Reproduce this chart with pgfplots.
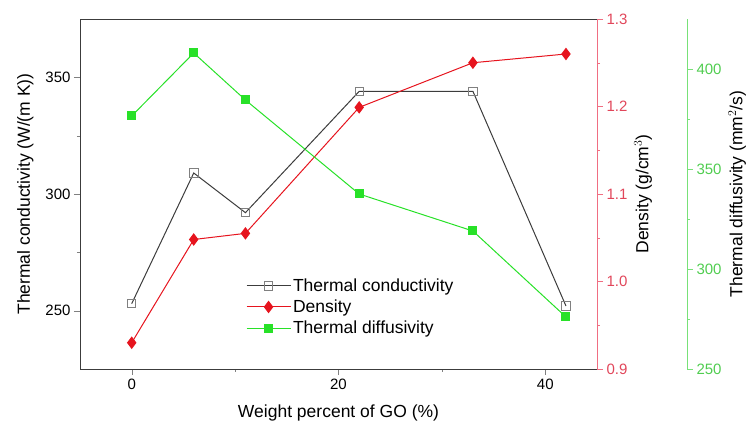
\documentclass[border=0pt]{standalone}
\usepackage{fontspec}
\setmainfont{Liberation Sans}
\usepackage{pgfplots}
\pgfplotsset{compat=1.18}
\definecolor{cred}{RGB}{230,20,30}
\definecolor{cgreen}{RGB}{40,225,40}
\definecolor{axred}{RGB}{240,110,130}
\definecolor{axgreen}{RGB}{120,225,120}
\definecolor{lblred}{RGB}{225,70,90}
\definecolor{lblgreen}{RGB}{80,205,80}
\definecolor{cgray}{RGB}{60,60,60}
\pgfplotsset{
  base/.style={
    scale only axis, height=350pt,
    tick align=outside,
    major tick length=6pt, minor tick length=3pt,
    /pgf/number format/assume math mode=true,
    tick label style={font=\fontsize{15}{15}\selectfont},
    label style={font=\fontsize{17.5}{17.5}\selectfont},
    every axis plot/.append style={line width=1pt},
  }
}
\begin{document}
\begin{tikzpicture}
% main axis: thermal conductivity
\begin{axis}[base, width=517pt,
  xmin=-5, xmax=45, ymin=225, ymax=375,
  xtick={0,20,40}, minor xtick={10,30},
  ytick={250,300,350}, minor ytick={275,325},
  xtick pos=bottom, ytick pos=left,
  axis line style={cgray, line width=0.9pt},
  xlabel={Weight percent of GO (\%)},
  ylabel={Thermal conductivity (W/(m K))},
  xlabel shift=9pt, ylabel shift=5pt,
  legend style={at={(0.315,0.27)}, anchor=north west, draw=none, fill=none,
    font=\fontsize{17.5}{17.5}\selectfont, row sep=3pt,
    legend cell align=left},
  legend image code/.code={\draw[mark repeat=2,mark phase=2] plot coordinates {(0pt,0pt) (22pt,0pt) (44pt,0pt)};},
]
\addplot[cgray, mark=square, mark size=4.2pt, mark options={fill=white, draw=gray, line width=0.8pt}]
  coordinates {(0,253) (6,309) (11,292) (22,344) (33,344) (42,252)};
\addlegendentry{Thermal conductivity}
\addlegendimage{cred, line width=1pt, mark=diamond*, mark size=5.5pt}
\addlegendentry{Density}
\addlegendimage{cgreen, line width=1pt, mark=square*, mark size=4pt}
\addlegendentry{Thermal diffusivity}
\end{axis}
% density axis
\begin{axis}[base, width=517pt,
  xmin=-5, xmax=45, ymin=0.9, ymax=1.3,
  axis x line=none, axis y line*=right,
  ytick={0.9,1.0,1.1,1.2,1.3}, minor ytick={0.95,1.05,1.15,1.25},
  y axis line style={axred, line width=0.9pt},
  y tick style={axred},
  yticklabel style={lblred, /pgf/number format/fixed, /pgf/number format/fixed zerofill, /pgf/number format/precision=1},
  ylabel={Density (g/cm$^3$)},
]
\addplot[cred, mark=diamond*, mark size=5.5pt]
  coordinates {(0,0.930) (6,1.048) (11,1.055) (22,1.199) (33,1.250) (42,1.260)};
\end{axis}
% diffusivity axis (offset)
\begin{axis}[base, width=607pt,
  xmin=-5, xmax=53.704, ymin=250, ymax=425,
  axis x line=none, axis y line*=right,
  ytick={250,300,350,400}, minor ytick={275,325,375},
  y axis line style={axgreen, line width=0.9pt},
  y tick style={axgreen},
  yticklabel style={lblgreen},
  ylabel={Thermal diffusivity (mm$^2$/s)},
]
\addplot[cgreen, mark=square*, mark size=4pt]
  coordinates {(0,376.5) (6,408) (11,384.5) (22,337.5) (33,319) (42,276)};
\end{axis}
\pgfresetboundingbox
\path[use as bounding box] (-80pt,-56pt) rectangle (670pt,369pt);
\end{tikzpicture}
\end{document}
